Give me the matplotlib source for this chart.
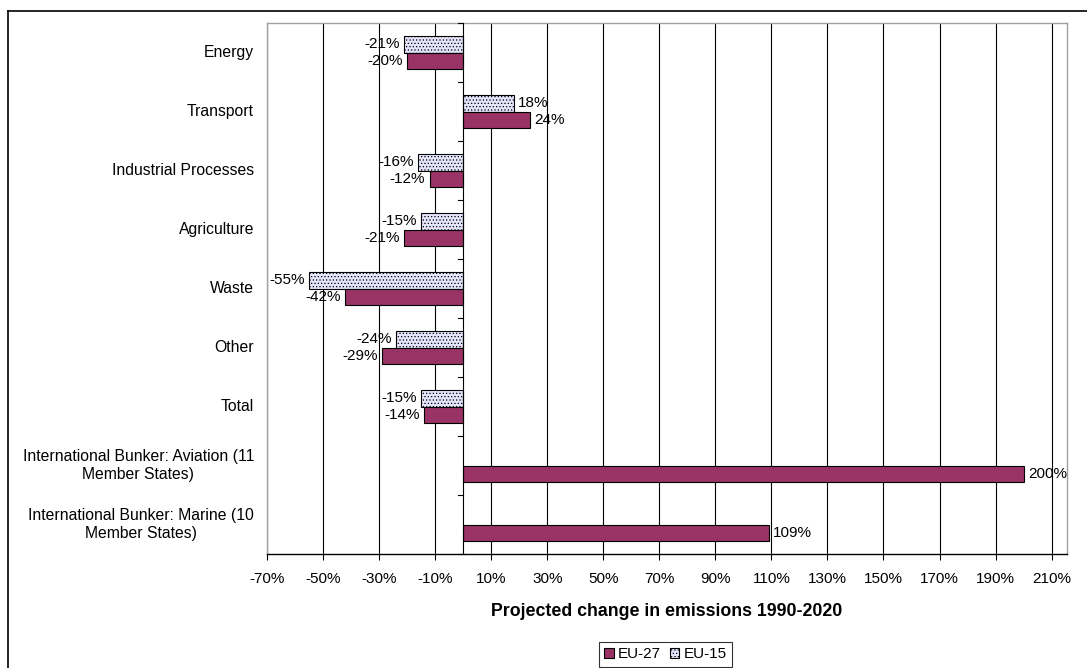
import matplotlib
matplotlib.use("Agg")
import matplotlib.pyplot as plt
import numpy as np
from matplotlib.patches import Patch
from matplotlib.lines import Line2D

plt.rcParams['font.family'] = ['Liberation Sans', 'DejaVu Sans']
plt.rcParams['hatch.color'] = '#c4c4ee'
plt.rcParams['hatch.linewidth'] = 0.5

categories = ["Energy", "Transport", "Industrial Processes", "Agriculture", "Waste",
              "Other", "Total", "International Bunker: Aviation (11\nMember States)",
              "International Bunker: Marine (10\nMember States)"]
eu15 = [-21, 18, -16, -15, -55, -24, -15, None, None]
eu27 = [-20, 24, -12, -21, -42, -29, -14, 200, 109]
xticks = list(range(-70, 211, 20))

W, H = 1087, 668
fig = plt.figure(figsize=(W / 100, H / 100), dpi=100)
ax = fig.add_axes([267 / W, 1 - 554 / H, (1067 - 267) / W, (554 - 23) / H])

n = len(categories)
bh = 0.28
c27 = '#993366'
c15 = '#e4e4fc'
fs = 11

for i in range(n):
    if eu15[i] is not None:
        v = eu15[i]
        ax.barh(i - bh / 2, v, height=bh, color=c15, edgecolor='black',
                linewidth=0.8, hatch='.....', zorder=3)
        ax.text(v + (1.5 if v >= 0 else -1.5), i - bh / 2, f"{v}%", va='center',
                ha='left' if v >= 0 else 'right', fontsize=fs, zorder=4)
    v = eu27[i]
    ax.barh(i + bh / 2, v, height=bh, color=c27, edgecolor='black',
            linewidth=0.8, zorder=3)
    ax.text(v + (1.5 if v >= 0 else -1.5), i + bh / 2, f"{v}%", va='center',
            ha='left' if v >= 0 else 'right', fontsize=fs, zorder=4)

ax.set_xlim(-70, 215.5)
ax.set_ylim(n - 0.5, -0.5)
ax.set_xticks(xticks)
ax.set_xticklabels([f"{t}%" for t in xticks], fontsize=fs)
ax.tick_params(axis='x', length=4, width=0.8, pad=9, direction='out')
ax.grid(axis='x', color='#000000', linewidth=0.8, zorder=1)
ax.set_yticks([])

# vertical axis at 0 with category boundary tick marks
ax.axvline(0, color='black', linewidth=0.8, zorder=3.5)
for b in np.arange(-0.5, n, 1.0):
    ax.plot([-1.8, 0], [b, b], color='black', linewidth=0.8, zorder=3.5, clip_on=False)

for s in ['top', 'right', 'left']:
    ax.spines[s].set_color('#a0a0a0')
    ax.spines[s].set_linewidth(1.0)
ax.spines['bottom'].set_color('black')
ax.spines['bottom'].set_linewidth(1.0)

# category labels
for i, c in enumerate(categories):
    fig.text(254 / W, 1 - (23 + 59 * (i + 0.5)) / H, c, ha='right', va='center',
             multialignment='center', fontsize=11.3, linespacing=1.2)

fig.text(667 / W, 1 - 612 / H, "Projected change in emissions 1990-2020",
         ha='center', va='center', fontsize=12.8, fontweight='bold')

handles = [Patch(facecolor=c27, edgecolor='black', linewidth=0.8, label='EU-27'),
           Patch(facecolor=c15, edgecolor='black', linewidth=0.8, hatch='.....', label='EU-15')]
leg = fig.legend(handles=handles, loc='upper left', bbox_to_anchor=(599 / W, 1 - 642 / H),
                 ncol=2, frameon=True, fancybox=False, fontsize=fs, handlelength=0.6,
                 handleheight=0.6, handletextpad=0.3, columnspacing=0.6,
                 borderpad=0.35, borderaxespad=0)
leg.get_frame().set_edgecolor('black')
leg.get_frame().set_linewidth(0.8)

# outer chart border (top and left visible)
fig.add_artist(Line2D([8 / W, 1.0], [1 - 11 / H, 1 - 11 / H], color='black', linewidth=1.2,
                      transform=fig.transFigure))
fig.add_artist(Line2D([8 / W, 8 / W], [1 - 11 / H, 0], color='black', linewidth=1.2,
                      transform=fig.transFigure))

fig.savefig("out.png", dpi=100)
